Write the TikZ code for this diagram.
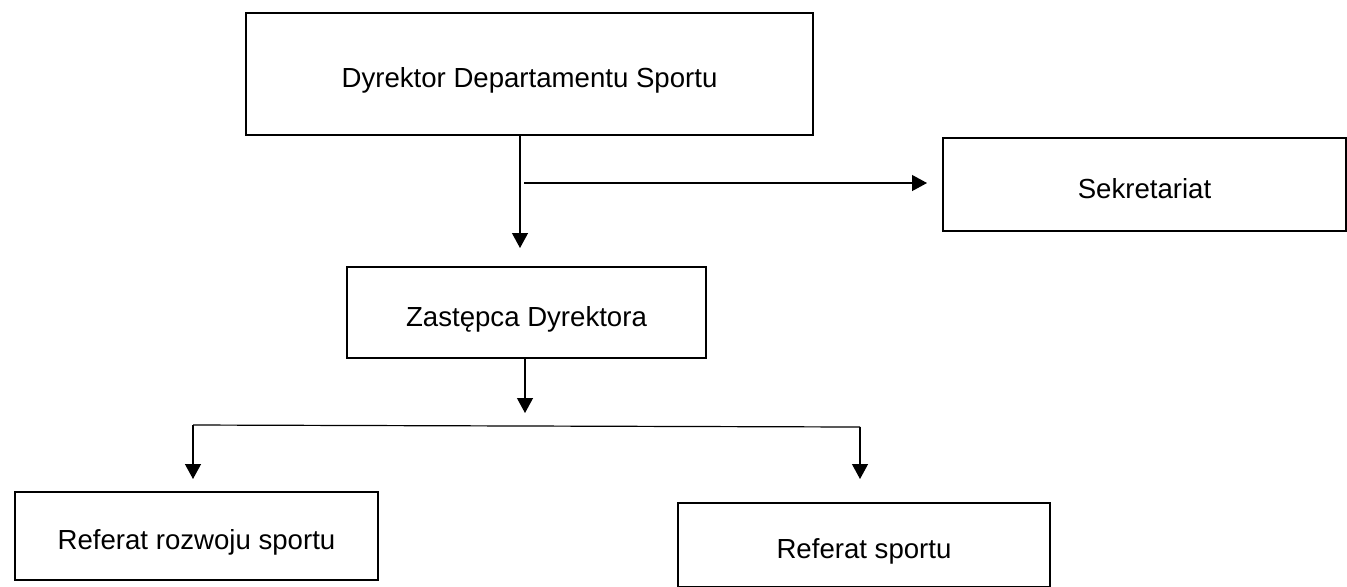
\documentclass[tikz,border=0pt]{standalone}
\usepackage{fontspec}
\setmainfont{Liberation Sans}
\usetikzlibrary{arrows.meta}

\tikzset{
  unitbox/.style={draw, line width=1pt, inner sep=0pt, text height=13.5pt, text depth=0pt, font=\fontsize{13.8}{16}\selectfont},
  conn/.style={line width=0.6pt},
}

\begin{document}
\begin{tikzpicture}[x=0.5pt, y=-0.5pt, >={Triangle[length=7.5pt,width=8pt]}]
  \useasboundingbox (0,0) rectangle (1347,586);

  \node [unitbox, minimum width=283.5pt, minimum height=61pt] (dyr) at (529.5,74) {Dyrektor Departamentu Sportu};
  \node [unitbox, minimum width=201.5pt, minimum height=46.5pt] (sek) at (1144.5,184.5) {Sekretariat};
  \node [unitbox, minimum width=179.5pt, minimum height=45.5pt] (zas) at (526.5,312.5) {Zastępca Dyrektora};
  \node [unitbox, minimum width=181.5pt, minimum height=44pt] (rozw) at (196.5,536) {Referat rozwoju sportu};
  \node [unitbox, minimum width=186pt, minimum height=42pt] (ref) at (864,545) {Referat sportu};

  % dyrektor -> zastepca, sekretariat
  \coordinate (t1) at (520,248);
  \coordinate (s1) at (524,183);
  \draw [->, conn] (dyr.south -| t1) -- (t1);
  \draw [->, conn, shorten >=7.5pt] (s1) -- (sek.west |- s1);

  % zastepca -> referaty
  \coordinate (t2) at (525,413);
  \coordinate (bl) at (193,425);
  \coordinate (br) at (860,427);
  \draw [->, conn] (zas.south -| t2) -- (t2);
  \draw [conn] (bl) -- (br);
  \draw [->, conn, shorten >=6pt] (bl) -- (bl |- rozw.north);
  \draw [->, conn, shorten >=11.5pt] (br) -- (br |- ref.north);

\end{tikzpicture}
\end{document}
